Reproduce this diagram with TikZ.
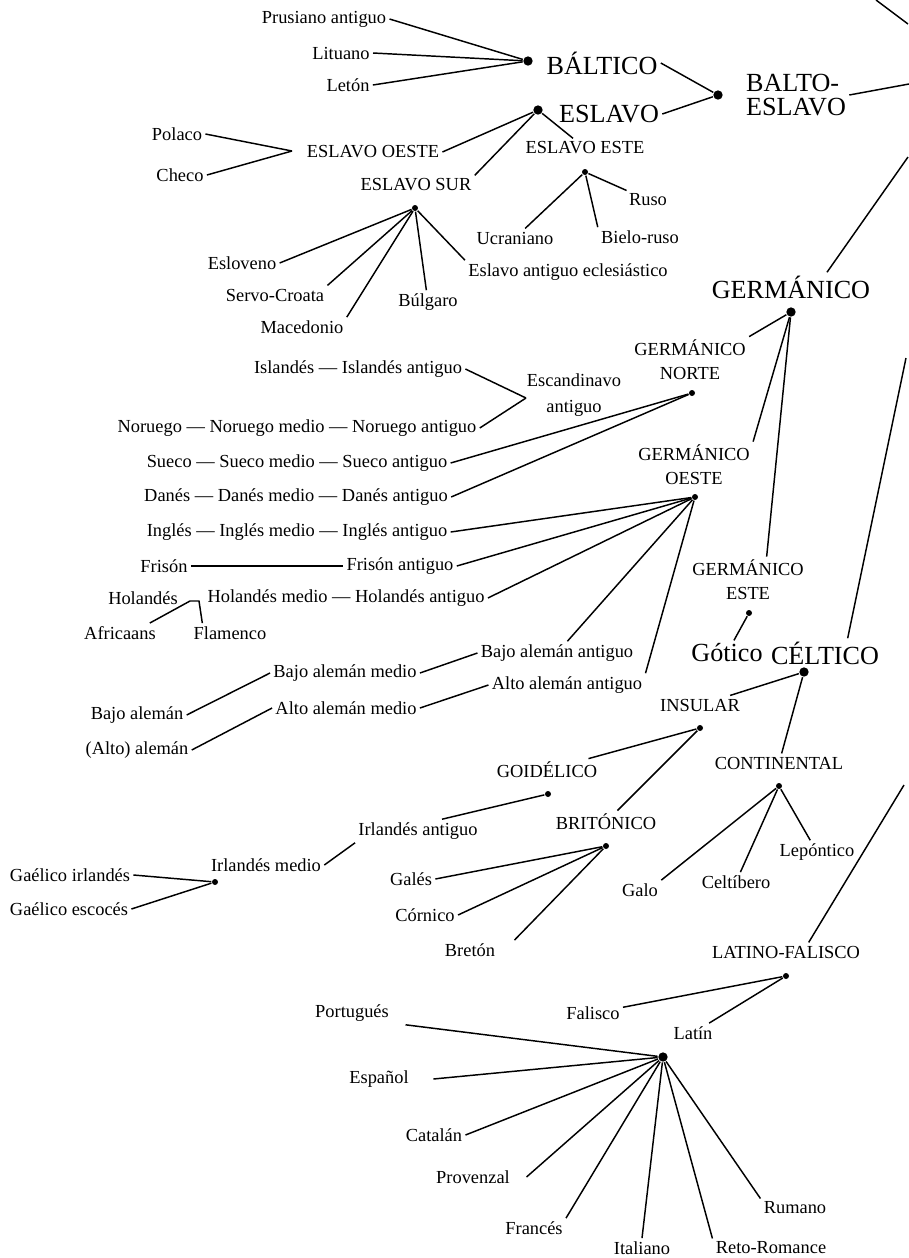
\documentclass[tikz,border=0pt]{standalone}
\usepackage{fontspec}
\setmainfont{Liberation Serif}
\usetikzlibrary{positioning}

\begin{document}
\begin{tikzpicture}[x=0.75pt, y=-0.75pt, line width=1.1pt,
    lang/.style={inner sep=2pt, font=\fontsize{13.8}{16}\selectfont},
    group/.style={inner sep=2pt, align=center, font=\fontsize{13.8}{18}\selectfont},
    big/.style={inner sep=2pt, align=left, font=\fontsize{19.6}{18}\selectfont},
    dot/.style={circle, fill, inner sep=0pt, minimum size=4.5pt},
    bigdot/.style={circle, fill, inner sep=0pt, minimum size=7pt}]
    \useasboundingbox (0,0) rectangle (909,1258);

    % Baltico y eslavo
    \node[lang] (prus) at (324,19) {Prusiano antiguo};
    \node[lang] (litu) at (341,53) {Lituano};
    \node[lang] (leton) at (348,85) {Letón};
    \node[bigdot] (baltdot) at (528,61) {};
    \node[big] (baltico) at (602,63) {BÁLTICO};
    \node[bigdot] (eslavodot) at (538,110) {};
    \node[big] (eslavo) at (609,114) {ESLAVO};
    \node[bigdot] (bedot) at (718,95) {};
    \node[big] (balto) at (796,95) {BALTO-\\ESLAVO};
    \coordinate (beout) at (909,84);
    \coordinate (topa) at (876,0);
    \coordinate (topb) at (908,24);
    \coordinate (germout) at (908,157);
    \coordinate (celtout) at (906,358);
    \coordinate (latout) at (904,785);

    \node[group] (oeste) at (373,152) {ESLAVO OESTE};
    \node[lang] (polaco) at (177,134) {Polaco};
    \node[lang] (checo) at (180,175) {Checo};
    \coordinate (oestebr) at (292,151);
    \node[group] (sur) at (416,185) {ESLAVO SUR};
    \node[group] (este) at (585,148) {ESLAVO ESTE};
    \node[dot] (estedot) at (585,172) {};
    \node[lang] (ruso) at (648,200) {Ruso};
    \node[lang] (ucran) at (515,238) {Ucraniano};
    \node[lang] (bielo) at (640,237) {Bielo-ruso};
    \node[dot] (surdot) at (415,208) {};
    \node[lang] (eslov) at (242,263) {Esloveno};
    \node[lang] (servo) at (275,295) {Servo-Croata};
    \node[lang] (maced) at (302,327) {Macedonio};
    \node[lang] (bulg) at (428,302) {Búlgaro};
    \node[lang] (ecles) at (568,272) {Eslavo antiguo eclesiástico};

    % Germanico
    \node[big] (germ) at (791,287) {GERMÁNICO};
    \node[bigdot] (germdot) at (791,312) {};
    \node[group] (norte) at (690,360) {GERMÁNICO\\NORTE};
    \node[dot] (nortedot) at (692,393) {};
    \node[group] (oesteg) at (694,465) {GERMÁNICO\\OESTE};
    \node[dot] (oestedot) at (695,497) {};
    \node[group] (esteg) at (748,580) {GERMÁNICO\\ESTE};
    \node[dot] (estegdot) at (749,613) {};
    \node[lang, align=center, font=\fontsize{13.8}{19.5}\selectfont] (escand) at (574,395) {Escandinavo\\antiguo};
    \coordinate (escbr) at (526,398);
    \node[lang] (islan) at (358,369) {Islandés — Islandés antiguo};
    \node[lang] (noru) at (297,428) {Noruego — Noruego medio — Noruego antiguo};
    \node[lang] (sueco) at (297,463) {Sueco — Sueco medio — Sueco antiguo};
    \node[lang] (danes) at (296,497) {Danés — Danés medio — Danés antiguo};
    \node[lang] (ingles) at (297,532) {Inglés — Inglés medio — Inglés antiguo};
    \node[lang] (frison) at (164,566) {Frisón};
    \node[lang] (frisonant) at (400,566) {Frisón antiguo};
    \node[lang] (holand) at (143,598) {Holandés};
    \node[lang] (holmed) at (346,598) {Holandés medio — Holandés antiguo};
    \node[lang] (africa) at (120,633) {Africaans};
    \node[lang] (flamen) at (230,633) {Flamenco};
    \coordinate (holbra) at (190,601);
    \coordinate (holbrb) at (199,601);
    \node[lang] (bajoant) at (557,653) {Bajo alemán antiguo};
    \node[lang] (altoant) at (567,685) {Alto alemán antiguo};
    \node[lang] (bajomed) at (345,673) {Bajo alemán medio};
    \node[lang] (altomed) at (346,708) {Alto alemán medio};
    \node[lang] (bajo) at (137,715) {Bajo alemán};
    \node[lang] (alto) at (137,750) {(Alto) alemán};
    \node[big] (gotico) at (727,653) {Gótico};

    % Celtico
    \node[big] (celtico) at (825,653) {CÉLTICO};
    \node[bigdot] (celtdot) at (804,672) {};
    \node[group] (insular) at (700,705) {INSULAR};
    \node[group] (contin) at (779,763) {CONTINENTAL};
    \node[dot] (insdot) at (700,728) {};
    \node[group] (goid) at (547,770) {GOIDÉLICO};
    \node[dot] (goiddot) at (548,794) {};
    \node[group] (brit) at (606,822) {BRITÓNICO};
    \node[dot] (britdot) at (606,846) {};
    \node[lang] (irlant) at (418,831) {Irlandés antiguo};
    \node[lang] (irlmed) at (266,865) {Irlandés medio};
    \node[dot] (irldot) at (215,882) {};
    \node[lang] (gaelir) at (70,875) {Gaélico irlandés};
    \node[lang] (gaelesc) at (69,909) {Gaélico escocés};
    \node[lang] (gales) at (411,879) {Galés};
    \node[lang] (cornico) at (425,915) {Córnico};
    \node[lang] (breton) at (470,950) {Bretón};
    \node[dot] (contdot) at (779,786) {};
    \node[lang] (galo) at (640,890) {Galo};
    \node[lang] (celtib) at (736,882) {Celtíbero};
    \node[lang] (lepon) at (817,852) {Lepóntico};

    % Latino-falisco
    \node[group] (latfal) at (786,952) {LATINO-FALISCO};
    \node[dot] (latfaldot) at (786,976) {};
    \node[lang] (falisco) at (593,1013) {Falisco};
    \node[lang] (latin) at (693,1033) {Latín};
    \node[bigdot] (romdot) at (663,1057) {};
    \node[lang] (port) at (352,1013) {Portugués};
    \node[lang] (esp) at (379,1079) {Español};
    \node[lang] (catal) at (434,1135) {Catalán};
    \node[lang] (prov) at (473,1177) {Provenzal};
    \node[lang] (franc) at (534,1228) {Francés};
    \node[lang] (ital) at (642,1248) {Italiano};
    \node[lang] (reto) at (771,1248) {Reto-Romance};
    \node[lang] (rum) at (795,1208) {Rumano};

    % Connections
    \foreach \a in {prus,litu,leton}
        \draw (\a.east) -- (baltdot);
    \foreach \a in {baltico,eslavo}
        \draw (\a.east) -- (bedot);
    \draw (balto.east) -- (beout);
    \draw (topa) -- (topb);
    \draw ([xshift=27pt]germ.north) -- (germout);
    \draw ([xshift=17pt]celtico.north) -- (celtout);
    \draw ([xshift=17pt]latfal.north) -- (latout);

    \draw (oeste.east) -- (eslavodot);
    \draw (sur.north east) -- (eslavodot);
    \draw (este) -- (eslavodot);
    \foreach \a in {polaco,checo}
        \draw (\a.east) -- (oestebr);
    \draw (estedot) -- (ruso);
    \draw (estedot) -- (ucran);
    \draw (estedot) -- (bielo.north west);
    \foreach \a in {eslov.east,servo.north east,maced.north east,bulg,ecles.north west}
        \draw (surdot) -- (\a);

    \draw (germdot) -- (norte.north east);
    \draw (germdot) -- (oesteg.north east);
    \draw (germdot) -- ([xshift=14pt]esteg.north);
    \foreach \a in {sueco,danes}
        \draw (\a.east) -- (nortedot);
    \foreach \a in {islan,noru}
        \draw (\a.east) -- (escbr);
    \foreach \a in {ingles,frisonant,holmed}
        \draw (\a.east) -- (oestedot);
    \draw (frison) -- (frisonant);
    \draw ([xshift=-7pt]africa.north east) -- (holbra) -- (holbrb) -- ([xshift=9pt]flamen.north west);
    \draw (oestedot) -- (bajoant);
    \draw (oestedot) -- (altoant.north east);
    \draw (bajomed.east) -- (bajoant.west);
    \draw (altomed.east) -- (altoant.west);
    \draw (bajomed.west) -- (bajo.east);
    \draw (altomed.west) -- (alto.east);
    \draw (estegdot) -- (gotico);

    \draw (celtdot) -- (insular);
    \draw (celtdot) -- (contin);
    \draw (insdot) -- (goid);
    \draw (insdot) -- (brit);
    \draw (goiddot) -- ([xshift=18pt]irlant.north);
    \draw (irlmed.east) -- (irlant.south west);
    \foreach \a in {gaelir,gaelesc}
        \draw (\a.east) -- (irldot);
    \foreach \a in {gales,cornico}
        \draw (\a.east) -- (britdot);
    \draw (britdot) -- ([xshift=12pt]breton.north east);
    \draw (contdot) -- (galo.north east);
    \draw (contdot) -- (celtib);
    \draw (contdot) -- (lepon);

    \draw (latfaldot) -- (falisco);
    \draw (latfaldot) -- (latin);
    \draw (romdot) -- ([xshift=10pt]port.south east);
    \draw (romdot) -- ([xshift=16pt]esp.east);
    \draw (romdot) -- ([xshift=10pt]prov.east);
    \foreach \a in {catal.east,franc.north east,ital.north,reto.north west,rum.north west}
        \draw (romdot) -- (\a);
\end{tikzpicture}
\end{document}
